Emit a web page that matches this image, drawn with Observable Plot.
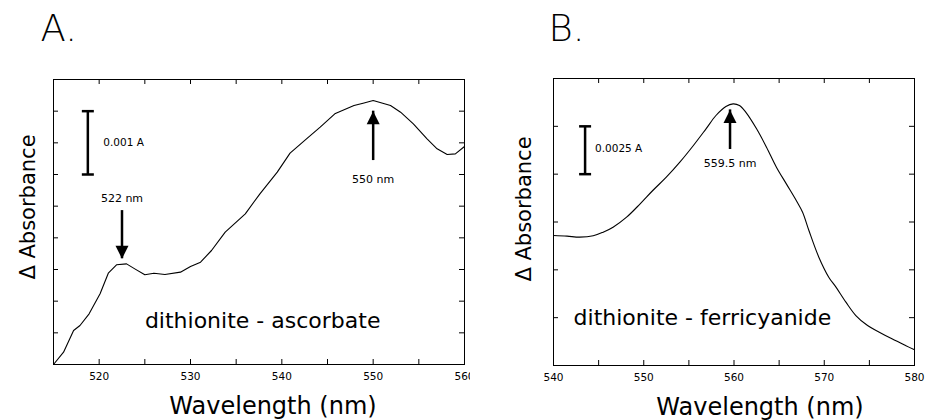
<!DOCTYPE html>
<html><head><meta charset="utf-8">
<script src="https://cdn.jsdelivr.net/npm/d3@7"></script>
<script src="https://cdn.jsdelivr.net/npm/@observablehq/plot@0.6"></script>
<style>
body{margin:0;background:#fff;}
#wrap{position:relative;width:925px;height:420px;overflow:hidden;font-family:"DejaVu Sans",sans-serif;}
#wrap > div{position:absolute;top:0;}
#pa{left:0;} #pb{left:470px;}
</style></head><body><div id="wrap"><div id="pa"></div><div id="pb"></div></div>
<script>
// ---- Panel A: dithionite - ascorbate ----
const wavelengthA = [515, 516.1, 517.2, 517.9, 518.9, 520.1, 521.0, 521.9, 523.0, 523.9, 525.0, 526.0, 527.2, 528.9, 530.0, 531.1, 532.3, 533.8, 536.0, 537.6, 539.5, 540.9, 542.7, 544.2, 545.8, 547.9, 548.9, 550.0, 551.9, 553.0, 554.4, 555.9, 557.0, 558.1, 559.0, 560];
const absorbanceA = [0, 0.000195, 0.000537, 0.000616, 0.0008, 0.001116, 0.001442, 0.001574, 0.001589, 0.00151, 0.001416, 0.001442, 0.001421, 0.001458, 0.001547, 0.001616, 0.0018, 0.002089, 0.002379, 0.002695, 0.003037, 0.003337, 0.003563, 0.003747, 0.003958, 0.004089, 0.004126, 0.004168, 0.004089, 0.003984, 0.0038, 0.003563, 0.003405, 0.003316, 0.003326, 0.003442];
const xDomainA = [515, 560];
const yDomainA = [0, 0.0045];
const xTickLabelsA = [520, 530, 540, 550, 560];
const xTicksA = [520, 525, 530, 535, 540, 545, 550, 555];
const yTicksA = [0.0005, 0.001, 0.0015, 0.002, 0.0025, 0.003, 0.0035, 0.004];

// ---- Panel B: dithionite - ferricyanide ----
const wavelengthB = [540, 541.5, 542.9, 544.4, 545.5, 546.6, 548.1, 549.6, 551.0, 552.5, 554.0, 555.5, 556.9, 558.0, 559.1, 559.9, 560.6, 561.3, 562.5, 563.6, 564.7, 565.8, 566.9, 567.6, 568.3, 569.4, 570.5, 571.3, 572.4, 573.5, 574.8, 576.1, 577.5, 579.0, 580];
const absorbanceB = [0.006794, 0.00676, 0.006707, 0.006777, 0.006969, 0.00723, 0.007753, 0.008449, 0.009146, 0.009843, 0.010627, 0.011498, 0.012369, 0.013066, 0.013536, 0.013675, 0.013589, 0.01324, 0.012369, 0.01141, 0.010365, 0.009494, 0.008623, 0.008013, 0.007055, 0.005662, 0.004617, 0.004094, 0.00331, 0.002613, 0.00209, 0.001742, 0.001394, 0.001045, 0.000819];
const xDomainB = [540, 580];
const yDomainB = [0, 0.015];
const xTickLabelsB = [540, 550, 560, 570, 580];
const xTicksB = [545, 550, 555, 560, 565, 570, 575];
const yTicksB = [0.0025, 0.005, 0.0075, 0.01, 0.0125];

// ---- annotations (data coordinates) ----
const scaleBarA = {x: 518.76, y1: 0.003, y2: 0.004, label: "0.001 A", lx: 520.45, ly: 0.0035};
const scaleBarB = {x: 543.5, y1: 0.01, y2: 0.0125, label: "0.0025 A", lx: 544.6, ly: 0.01133};
const arrowsA = [
  {x: 522.5, from: 0.00243, to: 0.00167, label: "522 nm", ly: 0.00262},
  {x: 550, from: 0.00322, to: 0.00400, label: "550 nm", ly: 0.00292}
];
const arrowsB = [
  {x: 559.56, from: 0.01129, to: 0.01336, label: "559.5 nm", ly: 0.01054}
];
const sampleA = {label: "dithionite - ascorbate", x: 537.9, y: 0.000695};
const sampleB = {label: "dithionite - ferricyanide", x: 556.5, y: 0.00246};

const FONT = "DejaVu Sans, sans-serif";

const capSymbol = {draw(ctx, size) { const r = Math.sqrt(size / Math.PI); ctx.moveTo(-r, 0); ctx.lineTo(r, 0); }};
const headUp = {draw(ctx, size) { const r = Math.sqrt(size / Math.PI); ctx.moveTo(0, 0); ctx.lineTo(r, 2 * r); ctx.lineTo(-r, 2 * r); ctx.closePath(); }};
const headDown = {draw(ctx, size) { const r = Math.sqrt(size / Math.PI); ctx.moveTo(0, 0); ctx.lineTo(r, -2 * r); ctx.lineTo(-r, -2 * r); ctx.closePath(); }};

function withHeads(arr) {
  return arr.map(a => Object.assign({}, a, {draw: (a.to > a.from ? headUp : headDown).draw}));
}

function panel(o) {
  const data = o.wl.map((x, i) => ({x, y: o.ab[i]}));
  const innerW = o.width - o.ml - o.mr;
  const innerH = 420 - o.mt - o.mb;
  return Plot.plot({
    width: o.width, height: 420,
    marginLeft: o.ml, marginRight: o.mr, marginTop: o.mt, marginBottom: o.mb,
    x: {domain: o.xDomain, axis: null},
    y: {domain: o.yDomain, axis: null},
    style: {fontFamily: FONT, background: "white", color: "black", overflow: "visible"},
    marks: [
      Plot.frame({stroke: "black", strokeWidth: 1}),
      // inward ticks: bottom & top
      Plot.tickX(o.xTicks, {x: d => d, insetTop: innerH - 5, stroke: "black"}),
      Plot.tickX(o.xTicks, {x: d => d, insetBottom: innerH - 5, stroke: "black"}),
      // inward ticks: left & right
      Plot.tickY(o.yTicks, {y: d => d, insetRight: innerW - 5, stroke: "black"}),
      Plot.tickY(o.yTicks, {y: d => d, insetLeft: innerW - 5, stroke: "black"}),
      // tick labels
      Plot.text(o.xLabels, {x: d => d, text: d => String(d), frameAnchor: "bottom", dy: 8, lineAnchor: "top", fontSize: 10.5, fill: "black"}),
      // spectrum
      Plot.line(data, {x: "x", y: "y", stroke: "black", strokeWidth: 1.1, curve: o.curve}),
      // scale bar
      Plot.ruleX([o.bar], {x: "x", y1: "y1", y2: "y2", stroke: "black", strokeWidth: 2.5}),
      Plot.dot([{x: o.bar.x, y: o.bar.y1}, {x: o.bar.x, y: o.bar.y2}], {x: "x", y: "y", symbol: capSymbol, r: 6, stroke: "black", strokeWidth: 2.5, fill: "none"}),
      Plot.text([o.bar], {x: "lx", y: "ly", text: "label", textAnchor: "start", fontSize: 10.5, fill: "black"}),
      // arrows
      Plot.ruleX(o.arrows, {x: "x", y1: "from", y2: "to", stroke: "black", strokeWidth: 2.5}),
      Plot.dot(o.arrows, {x: "x", y: "to", symbol: d => d, r: 6.5, fill: "black", stroke: "none"}),
      Plot.text(o.arrows, {x: "x", y: "ly", text: "label", fontSize: 11, fill: "black"}),
      // sample label
      Plot.text([o.sample], {x: "x", y: "y", text: "label", fontSize: 22, fill: "black"}),
      // axis titles
      Plot.text(["Wavelength (nm)"], {text: d => d, frameAnchor: "bottom", dx: o.xlabDx, dy: o.xlabDy, textAnchor: "middle", lineAnchor: "bottom", fontSize: 24, fill: "black"}),
      Plot.text(["\u0394 Absorbance"], {text: d => d, frameAnchor: "left", dx: o.ylabDx, dy: o.ylabDy, rotate: -90, textAnchor: "middle", lineAnchor: "bottom", fontSize: 21, fill: "black"}),
      // panel letter
      Plot.text([o.title], {text: d => d, frameAnchor: "top-left", dx: o.tDx, dy: o.tDy, textAnchor: "start", lineAnchor: "bottom", fontSize: 37, fontWeight: 200, fill: "black"})
    ]
  });
}

document.getElementById("pa").append(panel({
  wl: wavelengthA, ab: absorbanceA, xDomain: xDomainA, yDomain: yDomainA,
  xLabels: xTickLabelsA, xTicks: xTicksA, yTicks: yTicksA,
  width: 470, ml: 53, mr: 6, mt: 79, mb: 56, curve: "linear",
  bar: scaleBarA, arrows: withHeads(arrowsA), sample: sampleA,
  xlabDx: 14, xlabDy: 49, ylabDx: -19, ylabDy: -15,
  title: "A.", tDx: -13, tDy: -39
}));
document.getElementById("pb").append(panel({
  wl: wavelengthB, ab: absorbanceB, xDomain: xDomainB, yDomain: yDomainB,
  xLabels: xTickLabelsB, xTicks: xTicksB, yTicks: yTicksB,
  width: 455, ml: 83, mr: 11, mt: 78, mb: 55, curve: "catmull-rom",
  bar: scaleBarB, arrows: withHeads(arrowsB), sample: sampleB,
  xlabDx: 26, xlabDy: 49, ylabDx: -23, ylabDy: -13,
  title: "B.", tDx: -5, tDy: -38
}));
</script>
</body></html>
